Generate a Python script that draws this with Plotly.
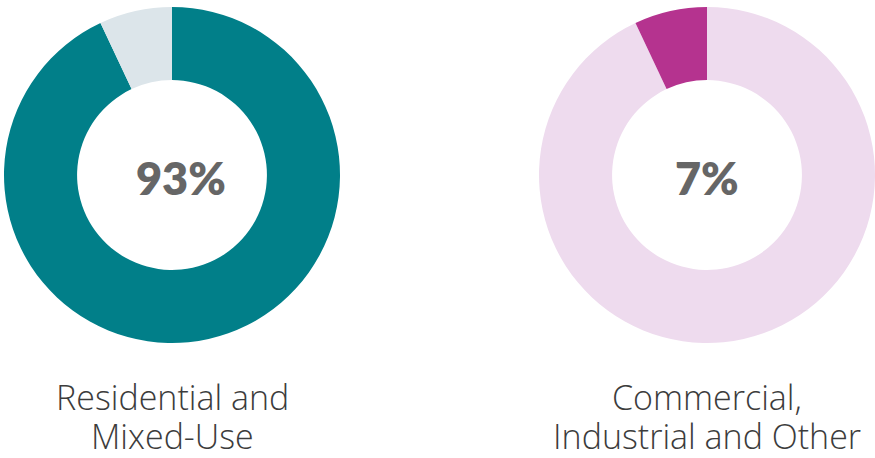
import plotly.graph_objects as go

categories = ["Residential and Mixed-Use", "Commercial, Industrial and Other"]
shares = [93, 7]
center_labels = ["93%", "7%"]
label_lines = [["Residential and", "Mixed-Use"], ["Commercial,", "Industrial and Other"]]

W, H = 875, 458
fig = go.Figure()

# left donut: 93% highlighted
fig.add_trace(go.Pie(
    values=[shares[0], 100 - shares[0]],
    labels=["Residential and Mixed-Use", "Other"],
    marker=dict(colors=["#017F89", "#DCE5EA"], line=dict(width=0)),
    hole=0.565, sort=False, direction="clockwise", rotation=0,
    textinfo="none", hoverinfo="label+percent", showlegend=False,
    domain=dict(x=[4 / W, 340 / W], y=[(H - 343) / H, (H - 7) / H]),
))
# right donut: 7% highlighted
fig.add_trace(go.Pie(
    values=[100 - shares[1], shares[1]],
    labels=["Other", "Commercial, Industrial and Other"],
    marker=dict(colors=["#EEDBEE", "#B5338F"], line=dict(width=0)),
    hole=0.565, sort=False, direction="clockwise", rotation=0,
    textinfo="none", hoverinfo="label+percent", showlegend=False,
    domain=dict(x=[539 / W, 875 / W], y=[(H - 343) / H, (H - 7) / H]),
))

pct_x = [181 / W, 707 / W]
label_x = [172 / W, 707 / W]
for px, lx, txt, lines in zip(pct_x, label_x, center_labels, label_lines):
    fig.add_annotation(x=px, y=(H - 178) / H, xref="paper", yref="paper",
                       text=txt, showarrow=False, xanchor="center", yanchor="middle",
                       font=dict(family="Lato, Inter, sans-serif", size=45, color="#666666", weight=800))
    for i, line in enumerate(lines):
        fig.add_annotation(x=lx, y=(H - (397 + 39 * i)) / H, xref="paper", yref="paper",
                           text=line, showarrow=False, xanchor="center", yanchor="middle",
                           height=36, valign="middle",
                           font=dict(family="Open Sans, sans-serif", size=34, color="#3C3C3C", weight=300))

fig.update_layout(width=W, height=H, margin=dict(l=0, r=0, t=0, b=0),
                  paper_bgcolor="white", plot_bgcolor="white")
fig.write_html("out.html")
